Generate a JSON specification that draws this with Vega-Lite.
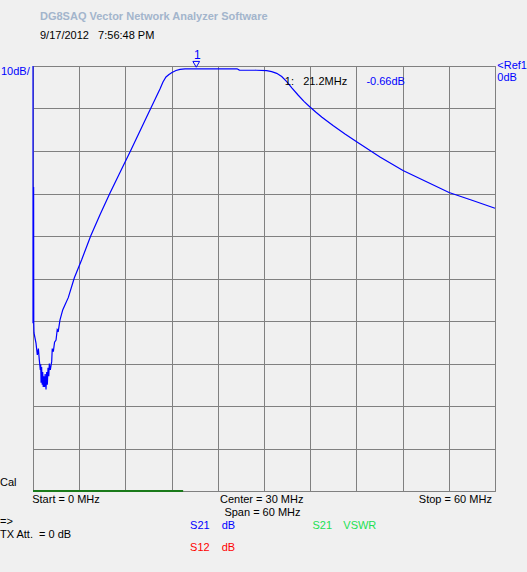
{
  "$schema": "https://vega.github.io/schema/vega-lite/v6.json",
  "autosize": "none",
  "width": 462,
  "height": 425,
  "padding": {"left": 33, "top": 66, "right": 32, "bottom": 81},
  "background": "#f0f0f0",
  "config": {
    "view": {"stroke": "#808080", "strokeWidth": 1, "fill": "#f0f0f0"},
    "axis": {"grid": true, "gridColor": "#808080", "gridOpacity": 1, "gridWidth": 1, "labels": false, "ticks": false, "domain": false, "title": null},
    "text": {"font": "Liberation Sans", "fontSize": 11}
  },
  "datasets": {
    "trace": [
      {"i":1,"f":0,"db":0},{"i":2,"f":0,"db":-60.5},{"i":3,"f":0.08,"db":-28.5},{"i":4,"f":0.1,"db":-60.5},
      {"i":5,"f":0.13,"db":-62.8},{"i":6,"f":0.39,"db":-65.2},{"i":7,"f":0.56,"db":-68},{"i":8,"f":0.7,"db":-66.5},
      {"i":9,"f":0.82,"db":-69.2},{"i":10,"f":0.95,"db":-71.5},{"i":11,"f":1.0,"db":-70.2},{"i":12,"f":1.05,"db":-74.5},
      {"i":13,"f":1.12,"db":-70.8},{"i":14,"f":1.2,"db":-75},{"i":15,"f":1.26,"db":-72},{"i":16,"f":1.33,"db":-75.5},
      {"i":17,"f":1.4,"db":-73},{"i":18,"f":1.5,"db":-75.5},{"i":19,"f":1.58,"db":-72.5},{"i":20,"f":1.69,"db":-76.1},
      {"i":21,"f":1.78,"db":-72},{"i":22,"f":1.86,"db":-75},{"i":23,"f":1.95,"db":-71},{"i":24,"f":2.05,"db":-73},
      {"i":25,"f":2.12,"db":-70},{"i":26,"f":2.25,"db":-71.5},{"i":27,"f":2.43,"db":-69.5},{"i":28,"f":2.5,"db":-66.5},
      {"i":29,"f":2.64,"db":-67.2},{"i":30,"f":2.8,"db":-65},{"i":31,"f":2.99,"db":-64.5},{"i":32,"f":3.15,"db":-62},
      {"i":33,"f":3.29,"db":-62.3},{"i":34,"f":3.5,"db":-59.8},{"i":35,"f":3.86,"db":-57.4},{"i":36,"f":4.16,"db":-56.2},
      {"i":37,"f":4.58,"db":-54.5},{"i":38,"f":5.36,"db":-49.9},{"i":39,"f":6.32,"db":-45.6},{"i":40,"f":7.49,"db":-40},
      {"i":41,"f":8.7,"db":-35},{"i":42,"f":10.0,"db":-29.9},{"i":43,"f":11.2,"db":-25.4},{"i":44,"f":12.69,"db":-19.9},
      {"i":45,"f":14.0,"db":-14.9},{"i":46,"f":15.28,"db":-10},{"i":47,"f":15.84,"db":-7.88},{"i":48,"f":16.49,"db":-5.41},
      {"i":49,"f":16.88,"db":-3.76},{"i":50,"f":17.27,"db":-2.59},{"i":51,"f":17.66,"db":-2.0},{"i":52,"f":18.05,"db":-1.53},
      {"i":53,"f":18.57,"db":-1.06},{"i":54,"f":19.09,"db":-0.78},{"i":55,"f":19.74,"db":-0.66},{"i":56,"f":24,"db":-0.66},
      {"i":57,"f":26.5,"db":-0.66},{"i":58,"f":26.8,"db":-0.95},{"i":59,"f":29,"db":-1.0},{"i":60,"f":30.35,"db":-1.1},
      {"i":61,"f":31.0,"db":-1.34},{"i":62,"f":31.65,"db":-1.72},{"i":63,"f":32.3,"db":-2.47},{"i":64,"f":32.95,"db":-3.69},
      {"i":65,"f":33.64,"db":-5.2},{"i":66,"f":34.42,"db":-6.82},{"i":67,"f":35.19,"db":-8.31},{"i":68,"f":35.97,"db":-9.65},
      {"i":69,"f":36.75,"db":-10.89},{"i":70,"f":37.53,"db":-12.05},{"i":71,"f":38.96,"db":-14.02},{"i":72,"f":40.52,"db":-16.0},
      {"i":73,"f":42.08,"db":-17.86},{"i":74,"f":45.06,"db":-21.41},{"i":75,"f":48.05,"db":-24.59},{"i":76,"f":51.04,"db":-27.18},
      {"i":77,"f":54.03,"db":-29.76},{"i":78,"f":57.01,"db":-31.6},{"i":79,"f":60,"db":-33.48}
    ],
    "marker": [{"f":21.2,"db":-0.66,"label":"1","kind":"S21"}],
    "progress": [{"f0":0,"f1":19.5,"db":-100}],
    "title": [
      {"label":"DG8SAQ Vector Network Analyzer Software","f":0.91,"db":11.53,"kind":"title"}
    ],
    "notesLeft": [
      {"label":"9/17/2012\u00a0\u00a0\u00a07:56:48 PM","f":0.91,"db":7.06,"kind":"info"},
      {"label":"10dB/","f":-4.16,"db":-1.41,"kind":"S21"},
      {"label":"<Ref1","f":60.3,"db":0,"kind":"S21"},
      {"label":"0dB","f":60.3,"db":-2.82,"kind":"S21"},
      {"label":"1:\u00a0\u00a0 21.2MHz","f":32.7,"db":-3.7,"kind":"info"},
      {"label":"-0.66dB","f":43.3,"db":-3.7,"kind":"S21"},
      {"label":"Cal","f":-4.29,"db":-98,"kind":"info"},
      {"label":"Start = 0 MHz","f":-0.1,"db":-102.1,"kind":"info"},
      {"label":"=>","f":-4.29,"db":-107.3,"kind":"info"},
      {"label":"TX Att.\u00a0 = 0 dB","f":-4.29,"db":-110.4,"kind":"info"},
      {"label":"S21","f":20.4,"db":-108.2,"kind":"S21"},
      {"label":"dB","f":24.5,"db":-108.2,"kind":"S21"},
      {"label":"S21","f":36.3,"db":-108.2,"kind":"VSWR"},
      {"label":"VSWR","f":40.3,"db":-108.2,"kind":"VSWR"},
      {"label":"S12","f":20.4,"db":-113.5,"kind":"S12"},
      {"label":"dB","f":24.5,"db":-113.5,"kind":"S12"}
    ],
    "notesCenter": [
      {"label":"Center = 30 MHz","f":29.7,"db":-102.1,"kind":"info"},
      {"label":"Span = 60 MHz","f":29.8,"db":-105.2,"kind":"info"}
    ],
    "notesRight": [
      {"label":"Stop = 60 MHz","f":59.6,"db":-102.1,"kind":"info"}
    ]
  },
  "encoding": {
    "x": {"field": "f", "type": "quantitative", "scale": {"domain": [0, 60], "nice": false, "zero": false}, "axis": {"values": [0,6,12,18,24,30,36,42,48,54,60]}},
    "y": {"field": "db", "type": "quantitative", "scale": {"domain": [-100, 0], "nice": false, "zero": false}, "axis": {"values": [-100,-90,-80,-70,-60,-50,-40,-30,-20,-10,0]}}
  },
  "layer": [
    {
      "data": {"name": "progress"},
      "mark": {"type": "rule", "color": "#1a7a1a", "strokeWidth": 2},
      "encoding": {"x": {"field": "f0", "type": "quantitative"}, "x2": {"field": "f1"}, "y": {"field": "db", "type": "quantitative"}}
    },
    {
      "data": {"name": "trace"},
      "mark": {"type": "line", "color": "#0000ff", "strokeWidth": 1.2, "clip": false},
      "encoding": {"order": {"field": "i", "type": "quantitative"}}
    },
    {
      "data": {"name": "marker"},
      "mark": {"type": "point", "shape": "triangle-down", "size": 45, "filled": false, "color": "#0000ff", "strokeWidth": 1, "yOffset": -4.5, "opacity": 1},
      "encoding": {}
    },
    {
      "data": {"name": "marker"},
      "mark": {"type": "text", "color": "#0000ff", "fontSize": 12, "yOffset": -14, "align": "center", "baseline": "middle", "dx": 1},
      "encoding": {"text": {"field": "label"}}
    },
    {
      "data": {"name": "title"},
      "mark": {"type": "text", "align": "left", "baseline": "middle", "fontWeight": "bold", "fontSize": 11},
      "encoding": {
        "text": {"field": "label"},
        "color": {"field": "kind", "type": "nominal", "scale": {"domain": ["info","title","S21","S12","VSWR"], "range": ["#000000","#a3b5cc","#0000ff","#ff0000","#22e052"]}, "legend": null}
      }
    },
    {
      "data": {"name": "notesLeft"},
      "mark": {"type": "text", "align": "left", "baseline": "middle"},
      "encoding": {
        "text": {"field": "label"},
        "color": {"field": "kind", "type": "nominal", "legend": null}
      }
    },
    {
      "data": {"name": "notesCenter"},
      "mark": {"type": "text", "align": "center", "baseline": "middle"},
      "encoding": {
        "text": {"field": "label"},
        "color": {"field": "kind", "type": "nominal", "legend": null}
      }
    },
    {
      "data": {"name": "notesRight"},
      "mark": {"type": "text", "align": "right", "baseline": "middle"},
      "encoding": {
        "text": {"field": "label"},
        "color": {"field": "kind", "type": "nominal", "legend": null}
      }
    }
  ]
}
